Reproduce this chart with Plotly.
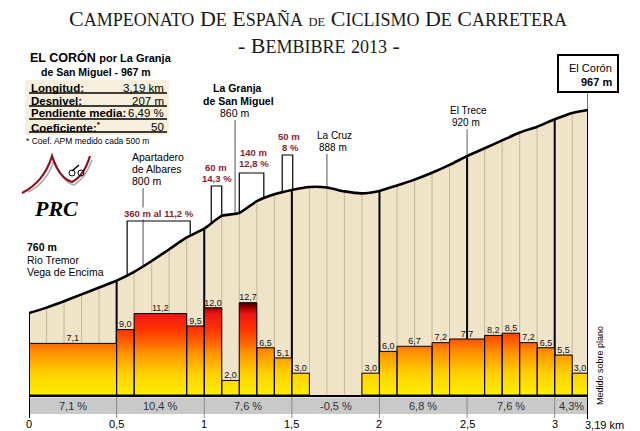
import numpy as np
import plotly.graph_objects as go

# ---------------- data ----------------
PROFILE_KM = [0.0, 0.1, 0.2, 0.3, 0.4, 0.5, 0.6, 0.7, 0.8, 0.9, 1.0, 1.1, 1.2, 1.3, 1.4, 1.5,
              1.6, 1.7, 1.8, 1.9, 2.0, 2.1, 2.2, 2.3, 2.4, 2.5, 2.6, 2.7, 2.8, 2.9, 3.0, 3.1, 3.19]
PROFILE_ELEV = [760, 765.5, 772, 779, 786, 793, 802, 813, 825, 837, 846, 859, 862, 874, 881, 885.5,
                888.5, 888, 884, 882, 884.5, 890, 896, 903, 911, 920, 928, 936, 944, 950, 957.5, 964, 967]

BAR_START = [0.0, 0.5, 0.6, 0.9, 1.0, 1.1, 1.2, 1.3, 1.4, 1.5, 1.9, 2.0, 2.1, 2.3, 2.4, 2.6, 2.7, 2.8, 2.9, 3.0, 3.1]
BAR_END = [0.5, 0.6, 0.9, 1.0, 1.1, 1.2, 1.3, 1.4, 1.5, 1.6, 2.0, 2.1, 2.3, 2.4, 2.6, 2.7, 2.8, 2.9, 3.0, 3.1, 3.19]
BAR_PCT = [7.1, 9.0, 11.2, 9.5, 12.0, 2.0, 12.7, 6.5, 5.1, 3.0, 3.0, 6.0, 6.7, 7.2, 7.7, 8.2, 8.5, 7.2, 6.5, 5.5, 3.0]

SEG_CENTER = [0.25, 0.75, 1.25, 1.75, 2.25, 2.75, 3.095]
SEG_LABEL = ["7,1 %", "10,4 %", "7,6 %", "-0,5 %", "6,8 %", "7,6 %", "4,3%"]

TICK_VALS = [0, 0.5, 1, 1.5, 2, 2.5, 3]
TICK_TEXT = ["0", "0,5", "1", "1,5", "2", "2,5", "3"]
TOTAL_KM = 3.19

SECTION_START = [0.56, 1.04, 1.20, 1.445]
SECTION_END = [0.92, 1.10, 1.34, 1.505]
SECTION_TEXT1 = ["360 m al 11,2 %", "60 m", "140 m", "50 m"]
SECTION_TEXT2 = ["", "14,3 %", "12,8 %", "8 %"]

CALLOUT_KM = [0.651, 1.176, 1.70, 2.5, 3.19]

INFO_LABELS = ["Longitud:", "Desnivel:", "Pendiente media:", "Coeficiente:<sup>*</sup>"]
INFO_VALUES = ["3,19 km", "207 m", "6,49 %", "50"]

# ---------------- geometry helpers (layout only) ----------------
W, H = 640, 431
ML, MR, MT, MB = 29, 52, 30, 17
PW, PH = W - ML - MR, H - MT - MB


def xp(px):
    return (px - ML) / PW


def yp(py):
    return (H - MB - py) / PH


def elev_px(py):  # pixel row -> elevation
    return 760 + (313 - py) / 0.9807


def pct_px(py):  # pixel row -> gradient %
    return (395 - py) / 7.27


Y_RANGE = [elev_px(414), elev_px(30)]
Y2_RANGE = [pct_px(414), pct_px(30)]
BASE_ELEV = Y_RANGE[0] + (0 - Y2_RANGE[0]) / (Y2_RANGE[1] - Y2_RANGE[0]) * (Y_RANGE[1] - Y_RANGE[0])


def prof(x):
    return float(np.interp(x, PROFILE_KM, PROFILE_ELEV))


SANS = "Arial, Liberation Sans, sans-serif"
SERIF = "Liberation Serif, Times New Roman, serif"
BEIGE = "#efe3c8"
RED = "#8b1e2e"

fig = go.Figure()

# beige fill under profile
fig.add_trace(go.Scatter(x=[0, TOTAL_KM], y=[BASE_ELEV, BASE_ELEV], mode="lines",
                         line=dict(width=0, color=BEIGE), hoverinfo="skip", showlegend=False))
fig.add_trace(go.Scatter(x=PROFILE_KM, y=PROFILE_ELEV, mode="lines",
                         line=dict(width=0, shape="spline", smoothing=0.6, color=BEIGE),
                         fill="tonexty", fillcolor=BEIGE, hoverinfo="skip", showlegend=False))

# thin vertical lines every 100 m
tx, ty = [], []
for k in PROFILE_KM[1:-1]:
    if abs(k * 2 - round(k * 2)) > 1e-6:
        tx += [k, k, None]
        ty += [BASE_ELEV, prof(k), None]
fig.add_trace(go.Scatter(x=tx, y=ty, mode="lines", line=dict(color="#c6b897", width=1),
                         hoverinfo="skip", showlegend=False))

# thick black lines every 500 m
bx_, by_ = [], []
for k in TICK_VALS[1:]:
    bx_ += [k, k, None]
    by_ += [BASE_ELEV, prof(k), None]
fig.add_trace(go.Scatter(x=bx_, y=by_, mode="lines", line=dict(color="black", width=2),
                         hoverinfo="skip", showlegend=False))

# callout lines (label -> profile)
CALL_TOP_PX = [188, 120, 154, 129, 92]
CALL_COL = ["#777", "#777", "#777", "#888", "#333"]
for k, top, c in zip(CALLOUT_KM, CALL_TOP_PX, CALL_COL):
    fig.add_trace(go.Scatter(x=[k, k], y=[elev_px(top), prof(k)], mode="lines",
                             line=dict(color=c, width=1.3), hoverinfo="skip", showlegend=False))

# brackets for steep sections
BR_TOP_PX = [221, 186, 173, 155]
for s, e, top in zip(SECTION_START, SECTION_END, BR_TOP_PX):
    fig.add_trace(go.Scatter(x=[s, s, e, e], y=[prof(s), elev_px(top), elev_px(top), prof(e)],
                             mode="lines", line=dict(color="black", width=1.2),
                             hoverinfo="skip", showlegend=False))

# profile line
fig.add_trace(go.Scatter(x=PROFILE_KM, y=PROFILE_ELEV, mode="lines",
                         line=dict(color="black", width=2.6, shape="spline", smoothing=0.6),
                         hoverinfo="skip", showlegend=False))

# gradient bars
gx, gy = [], []
for s, e, h in zip(BAR_START, BAR_END, BAR_PCT):
    gx += [s, s, e, e, s, None]
    gy += [0, h, h, 0, 0, None]
GRAD = [[0.0, "#ffef00"], [0.236, "#ffd000"], [0.47, "#ff8e00"], [0.56, "#ff6600"],
        [0.71, "#ff3300"], [0.88, "#ee1616"], [0.945, "#a00000"], [1.0, "#3e0000"]]
fig.add_trace(go.Scatter(x=gx, y=gy, yaxis="y2", mode="lines", fill="toself",
                         fillgradient=dict(type="vertical", colorscale=GRAD, start=0, stop=12.7),
                         line=dict(color="black", width=1), hoverinfo="skip", showlegend=False))

fig.add_trace(go.Scatter(x=[(s + e) / 2 for s, e in zip(BAR_START, BAR_END)], y=BAR_PCT,
                         yaxis="y2", mode="text",
                         text=[f"{v:.1f}".replace(".", ",") for v in BAR_PCT],
                         textposition="top center", textfont=dict(size=9, color="#111", family=SANS),
                         hoverinfo="skip", showlegend=False, cliponaxis=False))

shapes = []
ann = []

# grey band with segment gradients
shapes.append(dict(type="rect", xref="x", yref="paper", x0=0, x1=TOTAL_KM, y0=yp(414), y1=yp(397),
                   fillcolor="#c9c9c9", line=dict(width=0), layer="above"))
shapes.append(dict(type="line", xref="x", yref="paper", x0=0, x1=TOTAL_KM, y0=yp(397.5), y1=yp(397.5),
                   line=dict(color="#e6e6e6", width=1)))
for k in TICK_VALS[1:]:
    shapes.append(dict(type="line", xref="x", yref="paper", x0=k, x1=k, y0=yp(397), y1=yp(418),
                       line=dict(color="#8a8a8a", width=1)))
for k, t in zip(SEG_CENTER, SEG_LABEL):
    ann.append(dict(x=k, xref="x", y=yp(406), yref="paper", text=t, showarrow=False,
                    font=dict(size=11, color="#333", family=SANS), xanchor="center", yanchor="middle"))

# km tick labels
for k, t in zip(TICK_VALS, TICK_TEXT):
    ann.append(dict(x=k, xref="x", y=yp(424), yref="paper", text=t, showarrow=False,
                    font=dict(size=11, color="black", family=SANS), xanchor="center", yanchor="middle"))

# base line and end lines
shapes.append(dict(type="line", xref="x", yref="paper", x0=0, x1=TOTAL_KM, y0=yp(396), y1=yp(396),
                   line=dict(color="black", width=2)))
shapes.append(dict(type="line", xref="x", yref="paper", x0=0, x1=0, y0=yp(418), y1=yp(313),
                   line=dict(color="black", width=2)))
shapes.append(dict(type="line", xref="x", yref="paper", x0=TOTAL_KM, x1=TOTAL_KM, y0=yp(419), y1=yp(110),
                   line=dict(color="black", width=2)))

ann.append(dict(x=xp(583), y=yp(424.5), xref="paper", yref="paper", text="3,19 km", showarrow=False,
                font=dict(size=11, color="black", family=SANS), xanchor="left", yanchor="middle"))
ann.append(dict(x=xp(600), y=yp(366), xref="paper", yref="paper", text="Medido sobre plano",
                showarrow=False, textangle=-90, font=dict(size=9, color="black", family=SANS),
                xanchor="center", yanchor="middle"))

# title
sm = '<span style="font-size:18px">'
ann.append(dict(x=xp(318), y=yp(18), xref="paper", yref="paper", showarrow=False,
                text=("C" + sm + "AMPEONATO</span> D" + sm + "E</span> E" + sm + "SPAÑA</span> "
                      '<span style="font-size:12.5px">DE</span> C' + sm + "ICLISMO</span> D" + sm +
                      "E</span> C" + sm + "ARRETERA</span>"),
                font=dict(size=22, color="#1a1a1a", family=SERIF), xanchor="center", yanchor="middle"))
ann.append(dict(x=xp(319), y=yp(46), xref="paper", yref="paper", showarrow=False,
                text="- B" + sm + "EMBIBRE</span> " + sm + "2013</span> -",
                font=dict(size=22, color="#1a1a1a", family=SERIF), xanchor="center", yanchor="middle"))

# info block
ann.append(dict(x=xp(28), y=yp(57), xref="paper", yref="paper", showarrow=False,
                text='<b>EL CORÓN</b> <b><span style="font-size:11px">por La Granja</span></b>',
                font=dict(size=12.5, color="black", family=SANS), xanchor="left", yanchor="middle"))
ann.append(dict(x=xp(96), y=yp(72), xref="paper", yref="paper", showarrow=False,
                text="<b>de San Miguel - 967 m</b>",
                font=dict(size=10.5, color="black", family=SANS), xanchor="center", yanchor="middle"))
shapes.append(dict(type="rect", xref="paper", yref="paper", x0=xp(25), x1=xp(169), y0=yp(135), y1=yp(80),
                   fillcolor="#f7eedb", line=dict(width=0), layer="below"))
for i, (lab_, val) in enumerate(zip(INFO_LABELS, INFO_VALUES)):
    yrow = 87.5 + 13 * i
    ann.append(dict(x=xp(29), y=yp(yrow), xref="paper", yref="paper", showarrow=False,
                    text="<b>" + lab_ + "</b>", font=dict(size=11.5, color="black", family=SANS),
                    xanchor="left", yanchor="middle"))
    ann.append(dict(x=xp(166), y=yp(yrow), xref="paper", yref="paper", showarrow=False,
                    text=val, font=dict(size=11.5, color="black", family=SANS),
                    xanchor="right", yanchor="middle"))
    shapes.append(dict(type="line", xref="paper", yref="paper", x0=xp(29), x1=xp(167),
                       y0=yp(yrow + 5.5), y1=yp(yrow + 5.5), line=dict(color="black", width=1.5)))
ann.append(dict(x=xp(24), y=yp(141), xref="paper", yref="paper", showarrow=False,
                text="* Coef. APM medido cada 500 m",
                font=dict(size=8.5, color="black", family=SANS), xanchor="left", yanchor="middle"))


# logo
def path(pts):
    d = "M {},{} ".format(xp(pts[0][0]), yp(pts[0][1]))
    for i in range(1, len(pts), 2):
        d += "Q {},{} {},{} ".format(xp(pts[i][0]), yp(pts[i][1]), xp(pts[i + 1][0]), yp(pts[i + 1][1]))
    return d


shapes.append(dict(type="path", xref="paper", yref="paper",
                   path=path([(28, 192), (47, 183), (54, 160), (62, 182), (74, 185), (86, 178), (92, 160)]),
                   line=dict(color="#a9a9a9", width=1.5)))
shapes.append(dict(type="path", xref="paper", yref="paper",
                   path=path([(22, 193), (44, 182), (52, 156), (59, 178), (72, 182), (84, 176), (90, 156)]),
                   line=dict(color="#8b1020", width=2.2)))
shapes.append(dict(type="circle", xref="paper", yref="paper", x0=xp(69), x1=xp(75), y0=yp(176), y1=yp(170),
                   line=dict(color="black", width=1)))
shapes.append(dict(type="circle", xref="paper", yref="paper", x0=xp(78), x1=xp(84), y0=yp(176), y1=yp(170),
                   line=dict(color="black", width=1)))
shapes.append(dict(type="line", xref="paper", yref="paper", x0=xp(72), x1=xp(79), y0=yp(171), y1=yp(165),
                   line=dict(color="black", width=1.5)))
ann.append(dict(x=xp(56), y=yp(208), xref="paper", yref="paper", showarrow=False,
                text="<b><i>PRC</i></b>", font=dict(size=22, color="black", family=SERIF),
                xanchor="center", yanchor="middle"))

# start label
for txt, yy, b in [("760 m", 247, True), ("Rio Tremor", 260, False), ("Vega de Encima", 272, False)]:
    ann.append(dict(x=xp(25), y=yp(yy), xref="paper", yref="paper", showarrow=False,
                    text=("<b>%s</b>" % txt) if b else txt,
                    font=dict(size=10.5, color="black", family=SANS),
                    xanchor="left", yanchor="middle"))


# place labels
def lab(px, py, txt, size=10.5, bold=False, anchor="center", color="black", bg=None):
    d = dict(x=xp(px), y=yp(py), xref="paper", yref="paper", showarrow=False,
             text=("<b>%s</b>" % txt) if bold else txt,
             font=dict(size=size, color=color, family=SANS), xanchor=anchor, yanchor="middle")
    if bg:
        d["bgcolor"] = bg
        d["borderpad"] = 0
    ann.append(d)


lab(130, 157, "Apartadero", 10.5, anchor="left")
lab(130, 169, "de Albares", 10.5, anchor="left")
lab(130, 181, "800 m", 10.5, anchor="left")
lab(237, 88, "La Granja", 10.5, True)
lab(238, 101, "de San Miguel", 10.5, True)
lab(234, 113, "860 m", 10.5)
lab(334, 135.5, "La Cruz", 10)
lab(333, 147.5, "888 m", 10)
lab(468, 110.5, "El Trece", 10)
lab(466, 122.5, "920 m", 10)

# steep section labels
SEC_TXT_PX = [(159, 213, None), (216, 167, 178), (253, 152, 163), (289, 136, 147)]
for (cx, y1, y2), t1, t2 in zip(SEC_TXT_PX, SECTION_TEXT1, SECTION_TEXT2):
    lab(cx, y1, t1, 9.5, True, color=RED, bg="white" if not t2 else None)
    if t2:
        lab(cx + 1, y2, t2, 9.5, True, color=RED)

# summit box
shapes.append(dict(type="rect", xref="paper", yref="paper", x0=xp(558), x1=xp(618), y0=yp(92), y1=yp(55),
                   fillcolor="white", line=dict(color="black", width=2)))
lab(614, 68, "El Corón", 11, anchor="right")
lab(614, 82, "967 m", 11, True, anchor="right")

fig.update_layout(
    width=W, height=H, autosize=False, margin=dict(l=ML, r=MR, t=MT, b=MB, pad=0, autoexpand=False),
    paper_bgcolor="white", plot_bgcolor="white", showlegend=False,
    xaxis=dict(range=[0, TOTAL_KM], showgrid=False, zeroline=False, showline=False, automargin=False,
               showticklabels=False, ticks="", fixedrange=True),
    yaxis=dict(range=Y_RANGE, visible=False, fixedrange=True, automargin=False),
    yaxis2=dict(range=Y2_RANGE, visible=False, overlaying="y", fixedrange=True, automargin=False),
    shapes=shapes, annotations=ann,
)

fig.write_html(
    "out.html",
    config={"displayModeBar": False},
    post_script="document.body.style.margin='0px';document.body.style.overflow='hidden';",
)
